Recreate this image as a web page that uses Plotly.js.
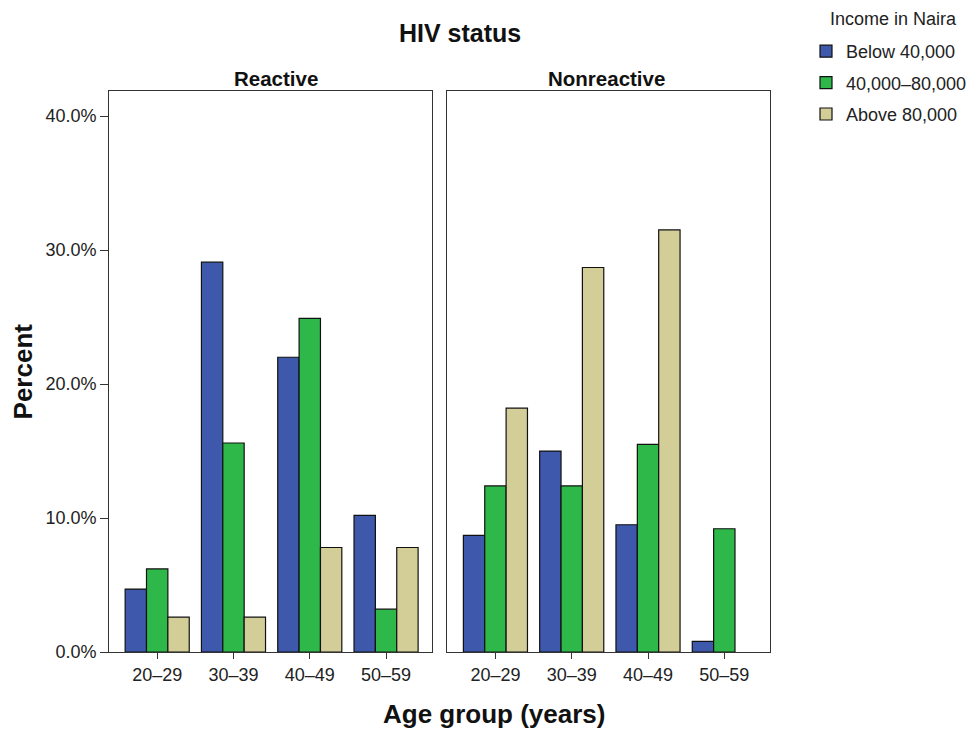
<!DOCTYPE html>
<html>
<head>
<meta charset="utf-8">
<script src="https://cdn.plot.ly/plotly-3.0.1.min.js"></script>
<style>html,body{margin:0;padding:0;background:#fff;}#chart{width:972px;height:730px;}</style>
</head>
<body>
<div id="chart"></div>
<script>
const ageGroups = ["20–29", "30–39", "40–49", "50–59"];
const panels = ["Reactive", "Nonreactive"];
const incomeLevels = ["Below 40,000", "40,000–80,000", "Above 80,000"];
const colors = ["#3E58AC", "#2FB84A", "#D3CE97"];
// Percent values, Reactive panel
const reactiveBelow40 = [4.7, 29.1, 22.0, 10.2];
const reactive40to80 = [6.2, 15.6, 24.9, 3.2];
const reactiveAbove80 = [2.6, 2.6, 7.8, 7.8];
// Percent values, Nonreactive panel (no bar for Above 80,000 at 50–59)
const nonreactiveBelow40 = [8.7, 15.0, 9.5, 0.8];
const nonreactive40to80 = [12.4, 12.4, 15.5, 9.2];
const nonreactiveAbove80 = [18.2, 28.7, 31.5, null];
const yTickVals = [0, 10, 20, 30, 40];
const yTickText = ["0.0%", "10.0%", "20.0%", "30.0%", "40.0%"];

const reactive = [reactiveBelow40, reactive40to80, reactiveAbove80];
const nonreactive = [nonreactiveBelow40, nonreactive40to80, nonreactiveAbove80];

const font = "Liberation Sans, Arial, sans-serif";
const traces = [];
[reactive, nonreactive].forEach((set, p) => {
  set.forEach((vals, i) => {
    traces.push({
      type: "bar",
      x: ageGroups,
      y: vals,
      name: incomeLevels[i],
      legendgroup: incomeLevels[i],
      showlegend: p === 0,
      xaxis: p === 0 ? "x" : "x2",
      yaxis: p === 0 ? "y" : "y2",
      marker: {color: colors[i], line: {color: "#111", width: 1.2}},
      hoverinfo: "skip"
    });
  });
});

const xCommon = {
  type: "category",
  range: [-0.63, 3.6],
  showline: true, mirror: true, linecolor: "#333", linewidth: 1,
  ticks: "outside", ticklen: 6, tickcolor: "#333",
  showgrid: false, zeroline: false,
  tickfont: {family: font, size: 18, color: "#222"},
  fixedrange: true
};
const yCommon = {
  domain: [0.1068, 0.8753],
  range: [0, 41.87],
  tickvals: yTickVals, ticktext: yTickText,
  showline: true, mirror: true, linecolor: "#333", linewidth: 1,
  showgrid: false, zeroline: false,
  tickfont: {family: font, size: 18, color: "#222"},
  fixedrange: true
};

const layout = {
  width: 972, height: 730,
  margin: {l: 0, r: 0, t: 0, b: 0},
  paper_bgcolor: "#fff", plot_bgcolor: "#fff",
  barmode: "group", bargap: 0.16, bargroupgap: 0,
  font: {family: font, color: "#222"},
  xaxis: Object.assign({}, xCommon, {domain: [0.1125, 0.4452], anchor: "y"}),
  xaxis2: Object.assign({}, xCommon, {domain: [0.4612, 0.7939], anchor: "y2"}),
  yaxis: Object.assign({}, yCommon, {anchor: "x", ticks: "outside", ticklen: 8, tickcolor: "#333"}),
  yaxis2: Object.assign({}, yCommon, {anchor: "x2", matches: "y", ticks: "", showticklabels: false}),
  showlegend: true,
  legend: {
    x: 808/972, y: 1 - 33/730, xanchor: "left", yanchor: "top",
    font: {family: font, size: 18, color: "#222"},
    bgcolor: "rgba(0,0,0,0)", tracegroupgap: 5, traceorder: "grouped"
  },
  annotations: [
    {text: "<b>HIV status</b>", xref: "paper", yref: "paper", x: 461/972, y: 1 - 33/730,
     xanchor: "center", yanchor: "middle", showarrow: false, font: {family: font, size: 25, color: "#111"}},
    {text: "<b>" + panels[0] + "</b>", xref: "paper", yref: "paper", x: 277/972, y: 1 - 79/730,
     xanchor: "center", yanchor: "middle", showarrow: false, font: {family: font, size: 20.5, color: "#111"}},
    {text: "<b>" + panels[1] + "</b>", xref: "paper", yref: "paper", x: 608/972, y: 1 - 79/730,
     xanchor: "center", yanchor: "middle", showarrow: false, font: {family: font, size: 20.5, color: "#111"}},
    {text: "<b>Age group (years)</b>", xref: "paper", yref: "paper", x: 496/972, y: 1 - 714/730,
     xanchor: "center", yanchor: "middle", showarrow: false, font: {family: font, size: 26, color: "#111"}},
    {text: "<b>Percent</b>", xref: "paper", yref: "paper", x: 23/972, y: 1 - 371.5/730,
     xanchor: "center", yanchor: "middle", textangle: -90, showarrow: false, font: {family: font, size: 26, color: "#111"}},
    {text: "Income in Naira", xref: "paper", yref: "paper", x: 830/972, y: 1 - 19/730,
     xanchor: "left", yanchor: "middle", showarrow: false, font: {family: font, size: 18, color: "#222"}}
  ]
};

Plotly.newPlot("chart", traces, layout, {displayModeBar: false, staticPlot: true});
</script>
</body>
</html>
